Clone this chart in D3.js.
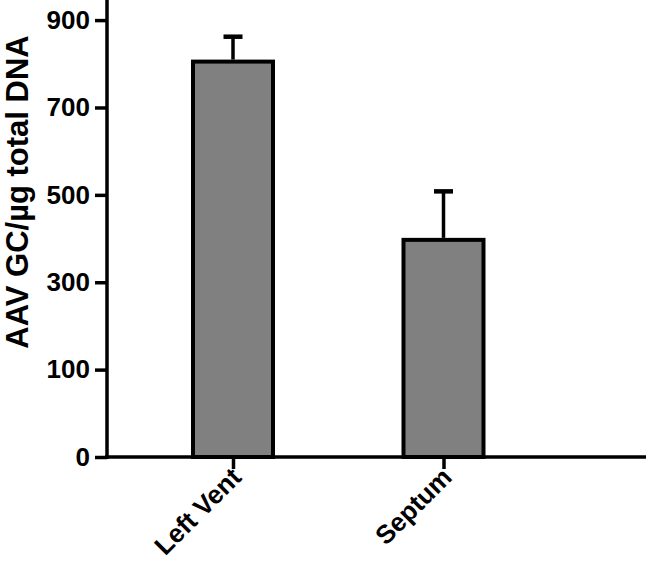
<!DOCTYPE html>
<html><head><meta charset="utf-8">
<script src="https://cdn.jsdelivr.net/npm/d3@7"></script>
<style>body{margin:0;background:#fff}svg{display:block}</style>
</head><body>
<script>
const categories = ["Left Vent", "Septum"];
const means = [805, 397];
const errUpper = [862, 508];
const tickValues = [-100, 100, 300, 500, 700, 900];
const tickLabels = ["0", "100", "300", "500", "700", "900"];
const yTitle = "AAV GC/µg total DNA";

const W = 646, H = 562;
const svg = d3.select("body").append("svg").attr("width", W).attr("height", H);
const font = "'Liberation Sans', Arial, sans-serif";

const y = d3.scaleLinear().domain([-100, 946]).range([457, 0]);
const x = d3.scalePoint().domain(categories).range([233, 443.5]);
const barW = 80;
const baseline = y(-100);

// bars
svg.selectAll("rect.bar").data(categories).enter().append("rect")
  .attr("x", d => x(d) - barW / 2)
  .attr("y", (d, i) => y(means[i]))
  .attr("width", barW)
  .attr("height", (d, i) => baseline - y(means[i]))
  .attr("fill", "#808080").attr("stroke", "#000").attr("stroke-width", 4);

// error bars
categories.forEach((c, i) => {
  svg.append("line").attr("x1", x(c)).attr("x2", x(c))
    .attr("y1", y(means[i]) - 2).attr("y2", y(errUpper[i]))
    .attr("stroke", "#000").attr("stroke-width", 3.5);
  svg.append("line").attr("x1", x(c) - 9.5).attr("x2", x(c) + 9.5)
    .attr("y1", y(errUpper[i])).attr("y2", y(errUpper[i]))
    .attr("stroke", "#000").attr("stroke-width", 4.5);
});

// y axis
const yAxis = d3.axisLeft(y).tickValues(tickValues)
  .tickFormat((d, i) => tickLabels[i]).tickSize(12).tickSizeOuter(0).tickPadding(5);
const gy = svg.append("g").attr("transform", "translate(107,0)").call(yAxis);
gy.select(".domain").remove();
gy.append("line").attr("x1", 0).attr("x2", 0).attr("y1", 0).attr("y2", baseline + 2)
  .attr("stroke", "#000").attr("stroke-width", 3.5);
gy.selectAll(".tick line").attr("stroke", "#000").attr("stroke-width", 3.5);
gy.selectAll(".tick text").attr("fill", "#000")
  .style("font-family", font).style("font-weight", "bold").style("font-size", "26px");

// x axis
const xAxis = d3.axisBottom(x).tickSize(12).tickSizeOuter(0).tickFormat("");
const gx = svg.append("g").attr("transform", `translate(0,${baseline})`).call(xAxis);
gx.select(".domain").remove();
gx.append("line").attr("x1", 105).attr("x2", W).attr("y1", 0).attr("y2", 0)
  .attr("stroke", "#000").attr("stroke-width", 3.5);
gx.selectAll(".tick line").attr("stroke", "#000").attr("stroke-width", 3.5);

// category labels rotated
svg.selectAll("text.cat").data(categories).enter().append("text")
  .attr("transform", d => `translate(${x(d) - 3},${baseline + 9}) rotate(-45)`)
  .attr("text-anchor", "end").attr("dy", "0.7em")
  .style("font-family", font).style("font-weight", "bold").style("font-size", "26px")
  .attr("fill", "#000").text(d => d);

// y title
svg.append("text")
  .attr("transform", `translate(28,${192}) rotate(-90)`)
  .attr("text-anchor", "middle")
  .style("font-family", font).style("font-weight", "bold").style("font-size", "31px")
  .attr("fill", "#000").text(yTitle);
</script>
</body></html>
